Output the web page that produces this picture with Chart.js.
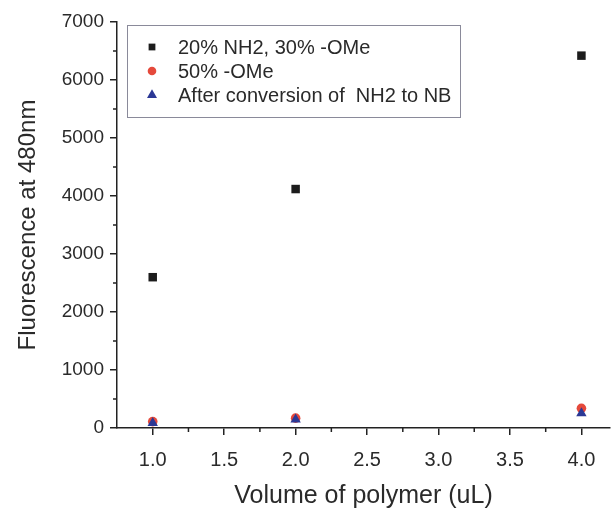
<!DOCTYPE html>
<html>
<head>
<meta charset="utf-8">
<script src="https://cdn.jsdelivr.net/npm/chart.js@4.4.0/dist/chart.umd.min.js"></script>
<style>
    html, body { margin: 0; padding: 0; background: #fff; }
    #wrap { width: 616px; height: 512px; }
</style>
</head>
<body>
<div id="wrap"><canvas id="fluoChart" width="616" height="512"></canvas></div>
<script>
// data
const volumes = [1.0, 2.0, 4.0];
const seriesNames = ['20% NH2, 30% -OMe', '50% -OMe', 'After conversion of  NH2 to NB'];
const aminoOMe = [2600, 4120, 6420];
const omeOnly = [110, 170, 340];
const afterConv = [85, 145, 255];
const xTicks = [1.0, 1.5, 2.0, 2.5, 3.0, 3.5, 4.0];
const xMinorTicks = [1.25, 1.75, 2.25, 2.75, 3.25, 3.75];
const yTicks = [0, 1000, 2000, 3000, 4000, 5000, 6000, 7000];
const yMinorTicks = [500, 1500, 2500, 3500, 4500, 5500, 6500];

const FONT = '"Liberation Sans", Arial, sans-serif';
const AXIS_COLOR = '#222';
const TEXT_COLOR = '#2a2a2a';

function toPoints(ys) {
    return volumes.map((x, i) => ({ x: x, y: ys[i] }));
}

// short minor ticks, placed through the scales
const minorTicks = {
    id: 'minorTicks',
    afterDraw(chart) {
        const ctx = chart.ctx;
        const xs = chart.scales.x, ys = chart.scales.y;
        ctx.save();
        ctx.strokeStyle = AXIS_COLOR;
        ctx.lineWidth = 1.5;
        ctx.beginPath();
        xMinorTicks.forEach(v => {
            const px = xs.getPixelForValue(v);
            ctx.moveTo(px, xs.top);
            ctx.lineTo(px, xs.top + 4);
        });
        yMinorTicks.forEach(v => {
            const py = ys.getPixelForValue(v);
            ctx.moveTo(ys.right, py);
            ctx.lineTo(ys.right - 4, py);
        });
        ctx.stroke();
        ctx.restore();
    }
};

// boxed legend inside the plot, top left
const boxLegend = {
    id: 'boxLegend',
    afterDraw(chart) {
        const ctx = chart.ctx;
        const area = chart.chartArea;
        const x0 = area.left + 10, y0 = area.top + 3;
        const w = 333, h = 92;
        ctx.save();
        ctx.strokeStyle = '#8a8a9a';
        ctx.lineWidth = 1;
        ctx.strokeRect(x0 + 0.5, y0 + 0.5, w, h);
        ctx.font = '20px ' + FONT;
        ctx.textBaseline = 'middle';
        seriesNames.forEach((name, i) => {
            const ds = chart.data.datasets[i];
            const cy = y0 + 22 + i * 24;
            ctx.fillStyle = ds.backgroundColor;
            ctx.strokeStyle = ds.backgroundColor;
            Chart.helpers.drawPoint(ctx, {
                pointStyle: ds.pointStyle,
                radius: ds.legendRadius,
                borderWidth: 0,
                rotation: 0
            }, x0 + 25, cy);
            ctx.fillStyle = TEXT_COLOR;
            ctx.fillText(name, x0 + 51, cy + 1);
        });
        ctx.restore();
    }
};

new Chart(document.getElementById('fluoChart'), {
    type: 'scatter',
    data: {
        datasets: [
            {
                label: seriesNames[0],
                data: toPoints(aminoOMe),
                order: 2,
                pointStyle: 'rect',
                pointRadius: 6,
                legendRadius: 4.8,
                backgroundColor: '#1c1c1c',
                borderColor: '#1c1c1c',
                borderWidth: 0
            },
            {
                label: seriesNames[1],
                data: toPoints(omeOnly),
                order: 1,
                pointStyle: 'circle',
                pointRadius: 4.8,
                legendRadius: 4.3,
                backgroundColor: '#e5493b',
                borderColor: '#e5493b',
                borderWidth: 0
            },
            {
                label: seriesNames[2],
                data: toPoints(afterConv),
                order: 0,
                pointStyle: 'triangle',
                pointRadius: 6,
                legendRadius: 5.8,
                backgroundColor: '#2b3895',
                borderColor: '#2b3895',
                borderWidth: 0
            }
        ]
    },
    options: {
        responsive: false,
        animation: false,
        layout: { padding: { top: 22, right: 0, left: 0, bottom: 0 } },
        plugins: {
            legend: { display: false },
            tooltip: { enabled: false }
        },
        scales: {
            x: {
                type: 'linear',
                min: 0.75,
                max: 4.2,
                afterBuildTicks: axis => { axis.ticks = xTicks.map(v => ({ value: v })); },
                afterFit: scale => { scale.height = 84; },
                border: { display: true, color: AXIS_COLOR, width: 1.5 },
                grid: { drawOnChartArea: false, drawTicks: true, tickLength: 7, color: AXIS_COLOR, tickColor: AXIS_COLOR, lineWidth: 1.5 },
                ticks: {
                    autoSkip: false,
                    maxRotation: 0,
                    padding: 13,
                    color: TEXT_COLOR,
                    font: { family: FONT, size: 20 },
                    callback: v => Number(v).toFixed(1)
                },
                title: {
                    display: true,
                    text: 'Volume of polymer (uL)',
                    color: TEXT_COLOR,
                    font: { family: FONT, size: 25 },
                    padding: { top: 0, bottom: 1 }
                }
            },
            y: {
                type: 'linear',
                min: 0,
                max: 7000,
                afterBuildTicks: axis => { axis.ticks = yTicks.map(v => ({ value: v })); },
                afterFit: scale => { scale.width = 117; },
                border: { display: true, color: AXIS_COLOR, width: 1.5 },
                grid: { drawOnChartArea: false, drawTicks: true, tickLength: 7, color: AXIS_COLOR, tickColor: AXIS_COLOR, lineWidth: 1.5 },
                ticks: {
                    autoSkip: false,
                    padding: 6,
                    color: TEXT_COLOR,
                    font: { family: FONT, size: 19 },
                    callback: v => String(v)
                },
                title: {
                    display: true,
                    text: 'Fluorescence at 480nm',
                    color: TEXT_COLOR,
                    font: { family: FONT, size: 24 },
                    padding: { top: 14, bottom: 0 }
                }
            }
        }
    },
    plugins: [minorTicks, boxLegend]
});
</script>
</body>
</html>
